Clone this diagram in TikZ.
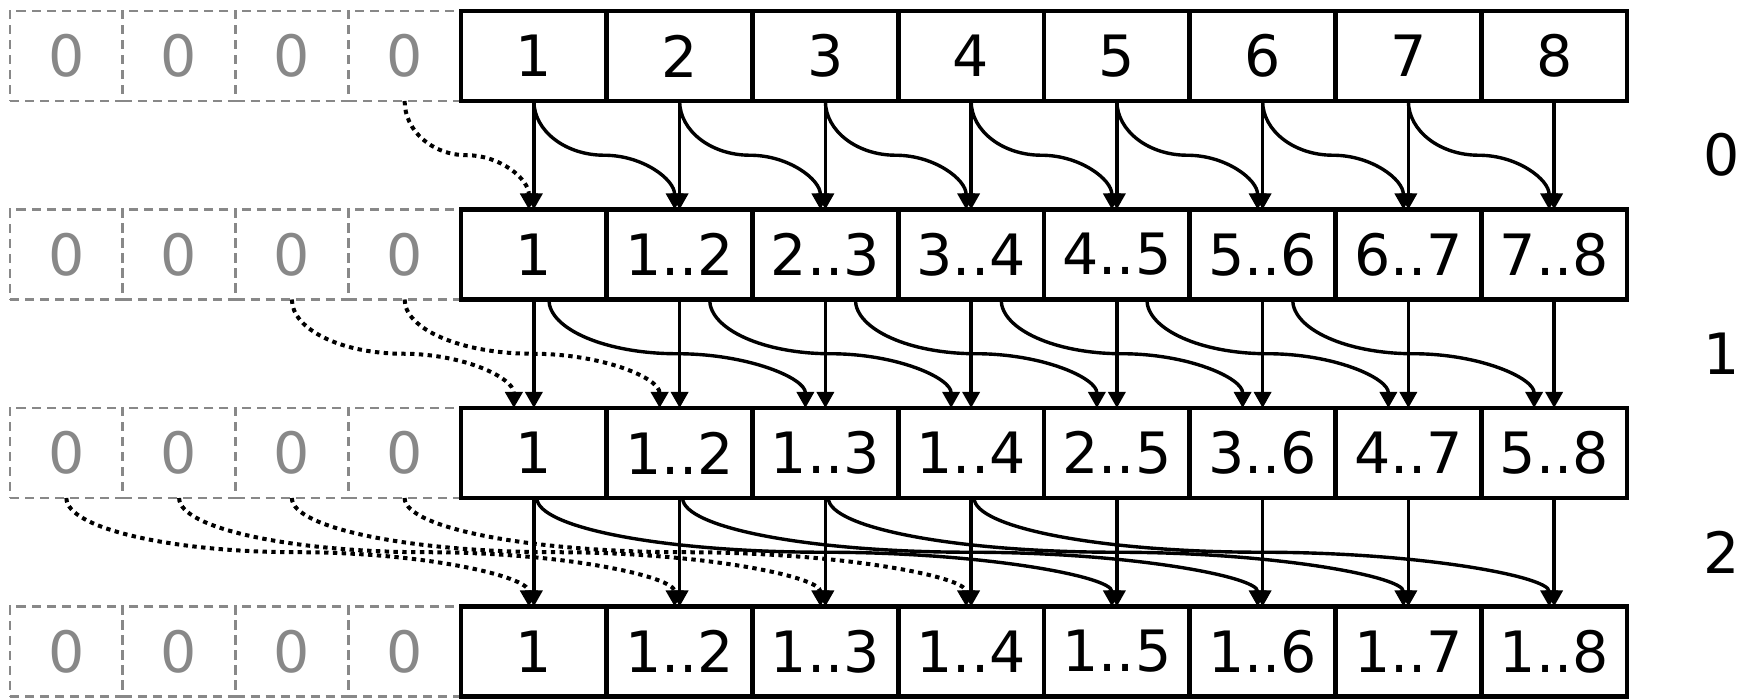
\documentclass[tikz,border=0pt]{standalone}
\usepackage{fontspec}
\setmainfont{DejaVu Sans}
\usepackage{xcolor}
\usetikzlibrary{arrows.meta,positioning,calc}

\definecolor{padgray}{RGB}{136,136,136}

\begin{document}
\begin{tikzpicture}[x=0.5pt, y=0.5pt,
  cellbox/.style={draw, line width=2.4pt, minimum width=72.875pt,
    minimum height=45pt, inner sep=0pt, outer sep=0pt,
    font=\fontsize{28.5}{30}\selectfont},
  padbox/.style={draw=padgray, line width=1.3pt, dash pattern=on 4.5pt off 3pt,
    minimum width=56.375pt, minimum height=45pt, inner sep=0pt, outer sep=0pt,
    text=padgray, font=\fontsize{28.5}{30}\selectfont},
  arr/.style={-{Triangle[length=8pt,width=8.5pt]}, line width=1.7pt},
  padarr/.style={arr, line width=2pt, dash pattern=on 2.2pt off 2.2pt},
  lvl/.style={font=\fontsize{28.5}{30}\selectfont},
]
  \useasboundingbox (0,0) rectangle (1753,699);

  \foreach \r in {0,...,3} {
    \pgfmathsetmacro\rowy{643-198.5*\r}
    \pgfmathtruncatemacro\w{2^\r}
    \foreach \k in {1,...,4}
      \node[padbox] (z-\r-\k) at ({10+112.75*(\k-0.5)},\rowy) {0};
    \foreach \j in {1,...,8} {
      \pgfmathtruncatemacro\lo{max(1,\j-\w+1)}
      \ifnum\lo=\j \edef\txt{\j}\else \edef\txt{\lo..\j}\fi
      \node[cellbox] (c-\r-\j) at ({461+145.75*(\j-0.5)},\rowy) {\txt};
    }
  }

  \foreach \l/\s/\a/\b in {0/1/0/5, 1/2/30/20, 2/4/3/5} {
    \pgfmathtruncatemacro\n{\l+1}
    \node[lvl] (lvl-\l) at (1722,{643-198.5*\l-99.25}) {\l};
    \foreach \j in {1,...,8} {
      \draw[arr] (c-\l-\j.south) -- (c-\n-\j.north);
      \pgfmathtruncatemacro\src{\j-\s}
      \pgfmathsetmacro\qx{461+145.75*(\j-0.5)-\b}
      \coordinate (q) at ([xshift=-\b*0.5pt]c-\n-\j.north);
      \ifnum\src>0
        \pgfmathsetmacro\sa{(\l==1 && \src==1) ? 15 : \a}
        \pgfmathsetmacro\h{0.275*(\qx-(461+145.75*(\src-0.5)+\sa))}
        \coordinate (p) at ([xshift=\sa*0.5pt]c-\l-\src.south);
        \draw[arr] (p) .. controls +(0,-30) and +(-\h,0) .. ($(p)!0.5!(q)$)
          .. controls +(\h,0) and +(0,30) .. (q);
      \else
        \pgfmathtruncatemacro\k{\src+4}
        \pgfmathsetmacro\h{0.275*(\qx-(10+112.75*(\k-0.5)))}
        \coordinate (p) at (z-\l-\k.south);
        \draw[padarr] (p) .. controls +(0,-30) and +(-\h,0) .. ($(p)!0.5!(q)$)
          .. controls +(\h,0) and +(0,30) .. (q);
      \fi
    }
  }
\end{tikzpicture}
\end{document}
